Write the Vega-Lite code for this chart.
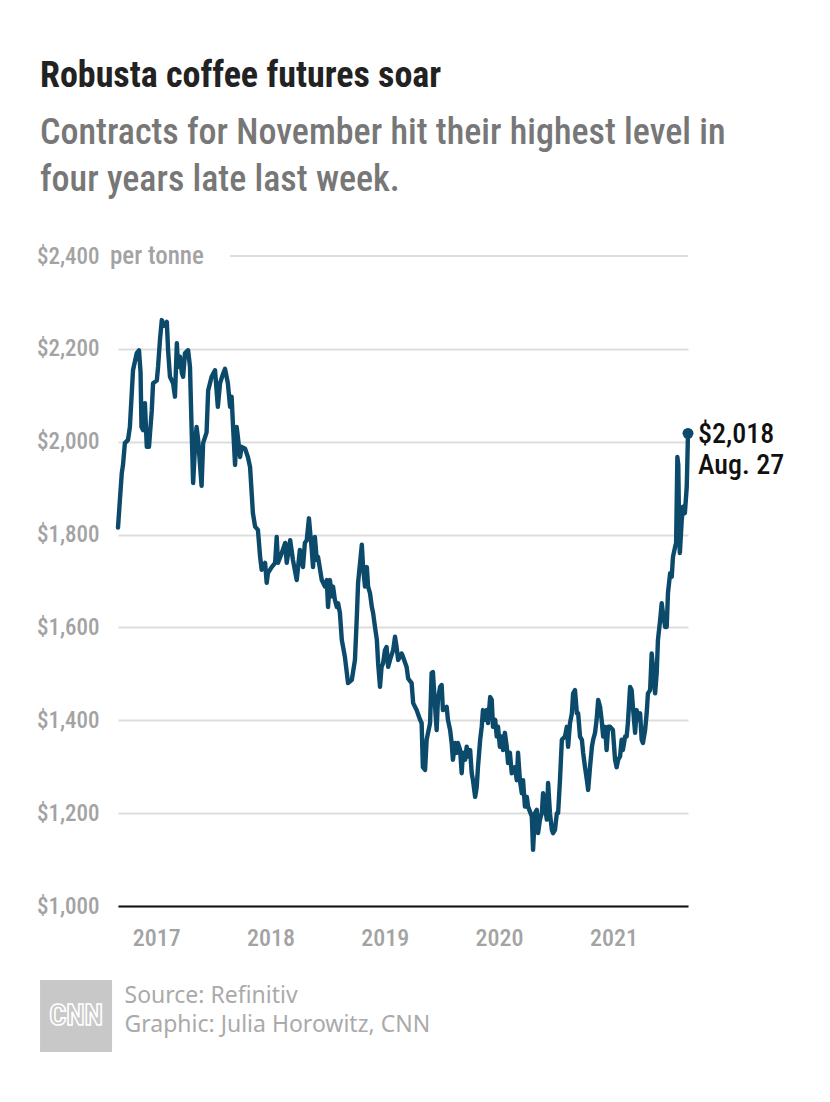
{
  "$schema": "https://vega.github.io/schema/vega-lite/v6.json",
  "width": 570,
  "height": 650,
  "autosize": {"type": "none"},
  "padding": {"left": 118, "top": 256, "right": 142, "bottom": 196},
  "background": "white",
  "config": {"view": {"stroke": null}, "font": "Roboto Condensed, DejaVu Sans Condensed, sans-serif"},
  "title": {
    "text": "Robusta coffee futures soar",
    "subtitle": ["Contracts for November hit their highest level in", "four years late last week."],
    "anchor": "start",
    "frame": "group",
    "dx": -78,
    "offset": 45,
    "font": "Roboto Condensed, DejaVu Sans Condensed, sans-serif",
    "fontWeight": "bold",
    "fontSize": 36,
    "color": "#222222",
    "subtitleFont": "Roboto Condensed, DejaVu Sans Condensed, sans-serif",
    "subtitleFontWeight": 500,
    "subtitleFontSize": 36,
    "subtitleColor": "#777777",
    "subtitleLineHeight": 47,
    "subtitlePadding": 21
  },
  "datasets": {
    "prices": [
      {"date": "2016-09-01", "price": 1815}, {"date": "2016-09-07", "price": 1874}, {"date": "2016-09-13", "price": 1932}, {"date": "2016-09-17", "price": 1950}, {"date": "2016-09-23", "price": 1997}, {"date": "2016-10-03", "price": 2004}, {"date": "2016-10-09", "price": 2032}, {"date": "2016-10-19", "price": 2154}, {"date": "2016-10-31", "price": 2191}, {"date": "2016-11-07", "price": 2197}, {"date": "2016-11-12", "price": 2150}, {"date": "2016-11-15", "price": 2032}, {"date": "2016-11-20", "price": 2025}, {"date": "2016-11-26", "price": 2083}, {"date": "2016-12-02", "price": 1989}, {"date": "2016-12-09", "price": 1989}, {"date": "2016-12-18", "price": 2068}, {"date": "2016-12-22", "price": 2126},
      {"date": "2017-01-03", "price": 2132}, {"date": "2017-01-07", "price": 2161}, {"date": "2017-01-13", "price": 2219}, {"date": "2017-01-19", "price": 2262}, {"date": "2017-01-26", "price": 2250}, {"date": "2017-02-04", "price": 2258}, {"date": "2017-02-08", "price": 2197}, {"date": "2017-02-14", "price": 2140}, {"date": "2017-02-24", "price": 2126}, {"date": "2017-03-02", "price": 2097}, {"date": "2017-03-08", "price": 2212}, {"date": "2017-03-12", "price": 2161}, {"date": "2017-03-18", "price": 2183}, {"date": "2017-03-24", "price": 2148}, {"date": "2017-03-28", "price": 2140}, {"date": "2017-04-03", "price": 2191}, {"date": "2017-04-13", "price": 2197}, {"date": "2017-04-19", "price": 2161}, {"date": "2017-04-24", "price": 2032}, {"date": "2017-04-29", "price": 1911}, {"date": "2017-05-05", "price": 1990}, {"date": "2017-05-10", "price": 2032}, {"date": "2017-05-15", "price": 2004}, {"date": "2017-05-26", "price": 1905}, {"date": "2017-05-31", "price": 1997}, {"date": "2017-06-11", "price": 2020}, {"date": "2017-06-16", "price": 2110}, {"date": "2017-06-27", "price": 2140}, {"date": "2017-07-08", "price": 2154}, {"date": "2017-07-17", "price": 2075}, {"date": "2017-07-24", "price": 2126}, {"date": "2017-08-02", "price": 2145}, {"date": "2017-08-09", "price": 2157}, {"date": "2017-08-18", "price": 2126}, {"date": "2017-08-25", "price": 2075}, {"date": "2017-08-30", "price": 2097}, {"date": "2017-09-03", "price": 2040}, {"date": "2017-09-10", "price": 1950}, {"date": "2017-09-15", "price": 2032}, {"date": "2017-09-19", "price": 2010}, {"date": "2017-09-26", "price": 1967}, {"date": "2017-10-01", "price": 1989}, {"date": "2017-10-12", "price": 1985}, {"date": "2017-10-21", "price": 1967}, {"date": "2017-10-28", "price": 1945}, {"date": "2017-11-06", "price": 1846}, {"date": "2017-11-13", "price": 1817}, {"date": "2017-11-22", "price": 1810}, {"date": "2017-11-29", "price": 1752}, {"date": "2017-12-04", "price": 1724}, {"date": "2017-12-15", "price": 1739}, {"date": "2017-12-20", "price": 1696}, {"date": "2017-12-24", "price": 1717},
      {"date": "2018-01-05", "price": 1730}, {"date": "2018-01-16", "price": 1739}, {"date": "2018-01-21", "price": 1795}, {"date": "2018-01-25", "price": 1739}, {"date": "2018-02-06", "price": 1760}, {"date": "2018-02-17", "price": 1782}, {"date": "2018-02-22", "price": 1739}, {"date": "2018-03-05", "price": 1788}, {"date": "2018-03-14", "price": 1745}, {"date": "2018-03-26", "price": 1702}, {"date": "2018-04-05", "price": 1767}, {"date": "2018-04-15", "price": 1730}, {"date": "2018-04-21", "price": 1782}, {"date": "2018-04-27", "price": 1788}, {"date": "2018-05-04", "price": 1835}, {"date": "2018-05-13", "price": 1767}, {"date": "2018-05-17", "price": 1730}, {"date": "2018-05-23", "price": 1795}, {"date": "2018-05-29", "price": 1745}, {"date": "2018-06-02", "price": 1752}, {"date": "2018-06-14", "price": 1702}, {"date": "2018-06-24", "price": 1688}, {"date": "2018-06-30", "price": 1702}, {"date": "2018-07-04", "price": 1644}, {"date": "2018-07-10", "price": 1702}, {"date": "2018-07-16", "price": 1667}, {"date": "2018-07-20", "price": 1688}, {"date": "2018-07-26", "price": 1659}, {"date": "2018-08-01", "price": 1644}, {"date": "2018-08-05", "price": 1652}, {"date": "2018-08-11", "price": 1631}, {"date": "2018-08-17", "price": 1573}, {"date": "2018-08-27", "price": 1536}, {"date": "2018-09-06", "price": 1480}, {"date": "2018-09-18", "price": 1487}, {"date": "2018-09-28", "price": 1530}, {"date": "2018-10-04", "price": 1623}, {"date": "2018-10-08", "price": 1696}, {"date": "2018-10-20", "price": 1778}, {"date": "2018-10-24", "price": 1730}, {"date": "2018-10-30", "price": 1688}, {"date": "2018-11-05", "price": 1730}, {"date": "2018-11-09", "price": 1688}, {"date": "2018-11-15", "price": 1674}, {"date": "2018-11-21", "price": 1644}, {"date": "2018-11-25", "price": 1631}, {"date": "2018-12-01", "price": 1601}, {"date": "2018-12-07", "price": 1573}, {"date": "2018-12-11", "price": 1523}, {"date": "2018-12-17", "price": 1472}, {"date": "2018-12-22", "price": 1515}, {"date": "2018-12-27", "price": 1523},
      {"date": "2019-01-02", "price": 1551}, {"date": "2019-01-07", "price": 1558}, {"date": "2019-01-12", "price": 1515}, {"date": "2019-01-18", "price": 1530}, {"date": "2019-01-28", "price": 1551}, {"date": "2019-02-03", "price": 1580}, {"date": "2019-02-08", "price": 1558}, {"date": "2019-02-13", "price": 1530}, {"date": "2019-02-24", "price": 1544}, {"date": "2019-03-01", "price": 1536}, {"date": "2019-03-12", "price": 1515}, {"date": "2019-03-17", "price": 1490}, {"date": "2019-03-28", "price": 1480}, {"date": "2019-04-02", "price": 1437}, {"date": "2019-04-13", "price": 1422}, {"date": "2019-04-24", "price": 1401}, {"date": "2019-04-29", "price": 1394}, {"date": "2019-05-03", "price": 1299}, {"date": "2019-05-10", "price": 1293}, {"date": "2019-05-15", "price": 1358}, {"date": "2019-05-26", "price": 1394}, {"date": "2019-05-31", "price": 1502}, {"date": "2019-06-04", "price": 1504}, {"date": "2019-06-11", "price": 1429}, {"date": "2019-06-16", "price": 1379}, {"date": "2019-06-20", "price": 1444}, {"date": "2019-06-27", "price": 1472}, {"date": "2019-07-02", "price": 1476}, {"date": "2019-07-06", "price": 1422}, {"date": "2019-07-18", "price": 1429}, {"date": "2019-07-22", "price": 1401}, {"date": "2019-07-29", "price": 1379}, {"date": "2019-08-03", "price": 1351}, {"date": "2019-08-07", "price": 1315}, {"date": "2019-08-14", "price": 1351}, {"date": "2019-08-19", "price": 1330}, {"date": "2019-08-23", "price": 1351}, {"date": "2019-08-30", "price": 1336}, {"date": "2019-09-04", "price": 1286}, {"date": "2019-09-08", "price": 1330}, {"date": "2019-09-15", "price": 1315}, {"date": "2019-09-20", "price": 1343}, {"date": "2019-09-24", "price": 1322}, {"date": "2019-10-01", "price": 1336}, {"date": "2019-10-06", "price": 1286}, {"date": "2019-10-10", "price": 1271}, {"date": "2019-10-17", "price": 1235}, {"date": "2019-10-22", "price": 1256}, {"date": "2019-10-26", "price": 1299}, {"date": "2019-11-02", "price": 1358}, {"date": "2019-11-07", "price": 1386}, {"date": "2019-11-11", "price": 1422}, {"date": "2019-11-18", "price": 1401}, {"date": "2019-11-23", "price": 1422}, {"date": "2019-11-27", "price": 1394}, {"date": "2019-12-04", "price": 1450}, {"date": "2019-12-09", "price": 1444}, {"date": "2019-12-13", "price": 1386}, {"date": "2019-12-20", "price": 1401}, {"date": "2019-12-25", "price": 1365}, {"date": "2019-12-29", "price": 1386},
      {"date": "2020-01-04", "price": 1343}, {"date": "2020-01-10", "price": 1365}, {"date": "2020-01-14", "price": 1336}, {"date": "2020-01-20", "price": 1373}, {"date": "2020-01-26", "price": 1343}, {"date": "2020-01-30", "price": 1308}, {"date": "2020-02-05", "price": 1330}, {"date": "2020-02-11", "price": 1286}, {"date": "2020-02-21", "price": 1299}, {"date": "2020-02-27", "price": 1271}, {"date": "2020-03-02", "price": 1330}, {"date": "2020-03-08", "price": 1271}, {"date": "2020-03-14", "price": 1243}, {"date": "2020-03-18", "price": 1271}, {"date": "2020-03-24", "price": 1214}, {"date": "2020-03-30", "price": 1235}, {"date": "2020-04-03", "price": 1214}, {"date": "2020-04-15", "price": 1193}, {"date": "2020-04-19", "price": 1121}, {"date": "2020-04-25", "price": 1200}, {"date": "2020-05-01", "price": 1207}, {"date": "2020-05-05", "price": 1157}, {"date": "2020-05-11", "price": 1186}, {"date": "2020-05-17", "price": 1200}, {"date": "2020-05-21", "price": 1243}, {"date": "2020-06-02", "price": 1186}, {"date": "2020-06-06", "price": 1265}, {"date": "2020-06-12", "price": 1200}, {"date": "2020-06-18", "price": 1164}, {"date": "2020-06-22", "price": 1157}, {"date": "2020-06-28", "price": 1164}, {"date": "2020-07-04", "price": 1200}, {"date": "2020-07-08", "price": 1200}, {"date": "2020-07-14", "price": 1271}, {"date": "2020-07-20", "price": 1358}, {"date": "2020-07-30", "price": 1365}, {"date": "2020-08-05", "price": 1386}, {"date": "2020-08-09", "price": 1343}, {"date": "2020-08-15", "price": 1394}, {"date": "2020-08-21", "price": 1415}, {"date": "2020-08-25", "price": 1458}, {"date": "2020-08-31", "price": 1465}, {"date": "2020-09-06", "price": 1415}, {"date": "2020-09-10", "price": 1415}, {"date": "2020-09-16", "price": 1365}, {"date": "2020-09-22", "price": 1358}, {"date": "2020-09-26", "price": 1330}, {"date": "2020-10-02", "price": 1299}, {"date": "2020-10-08", "price": 1271}, {"date": "2020-10-12", "price": 1250}, {"date": "2020-10-18", "price": 1299}, {"date": "2020-10-24", "price": 1343}, {"date": "2020-10-28", "price": 1358}, {"date": "2020-11-03", "price": 1373}, {"date": "2020-11-08", "price": 1401}, {"date": "2020-11-13", "price": 1444}, {"date": "2020-11-19", "price": 1429}, {"date": "2020-11-24", "price": 1401}, {"date": "2020-11-29", "price": 1365}, {"date": "2020-12-05", "price": 1386}, {"date": "2020-12-10", "price": 1336}, {"date": "2020-12-15", "price": 1386}, {"date": "2020-12-21", "price": 1386}, {"date": "2020-12-30", "price": 1379},
      {"date": "2021-01-06", "price": 1315}, {"date": "2021-01-11", "price": 1299}, {"date": "2021-01-16", "price": 1315}, {"date": "2021-01-22", "price": 1322}, {"date": "2021-01-27", "price": 1358}, {"date": "2021-01-31", "price": 1336}, {"date": "2021-02-07", "price": 1365}, {"date": "2021-02-12", "price": 1365}, {"date": "2021-02-16", "price": 1394}, {"date": "2021-02-23", "price": 1472}, {"date": "2021-02-28", "price": 1465}, {"date": "2021-03-04", "price": 1429}, {"date": "2021-03-11", "price": 1373}, {"date": "2021-03-16", "price": 1422}, {"date": "2021-03-20", "price": 1401}, {"date": "2021-03-27", "price": 1415}, {"date": "2021-04-01", "price": 1358}, {"date": "2021-04-05", "price": 1351}, {"date": "2021-04-12", "price": 1379}, {"date": "2021-04-17", "price": 1415}, {"date": "2021-04-21", "price": 1458}, {"date": "2021-04-28", "price": 1465}, {"date": "2021-05-03", "price": 1544}, {"date": "2021-05-07", "price": 1515}, {"date": "2021-05-14", "price": 1458}, {"date": "2021-05-19", "price": 1502}, {"date": "2021-05-23", "price": 1573}, {"date": "2021-05-30", "price": 1616}, {"date": "2021-06-04", "price": 1652}, {"date": "2021-06-08", "price": 1631}, {"date": "2021-06-15", "price": 1601}, {"date": "2021-06-20", "price": 1601}, {"date": "2021-06-24", "price": 1674}, {"date": "2021-07-01", "price": 1717}, {"date": "2021-07-06", "price": 1709}, {"date": "2021-07-10", "price": 1752}, {"date": "2021-07-17", "price": 1774}, {"date": "2021-07-20", "price": 1782}, {"date": "2021-07-24", "price": 1967}, {"date": "2021-07-27", "price": 1950}, {"date": "2021-07-30", "price": 1790}, {"date": "2021-08-01", "price": 1760}, {"date": "2021-08-07", "price": 1831}, {"date": "2021-08-11", "price": 1860}, {"date": "2021-08-17", "price": 1846}, {"date": "2021-08-23", "price": 1903}, {"date": "2021-08-27", "price": 2018}
    ],
    "last": [{"date": "2021-08-27", "price": 2018, "label": "Aug. 27"}],
    "one": [{}]
  },
  "layer": [
    {
      "data": {"name": "prices"},
      "mark": {"type": "line", "color": "#0c4a6c", "strokeWidth": 4.4, "strokeJoin": "round", "strokeCap": "round"},
      "encoding": {
        "x": {
          "field": "date", "type": "temporal",
          "scale": {"domain": ["2016-09-01", "2021-08-27"]},
          "axis": {
            "title": ["Source: Refinitiv", "Graphic: Julia Horowitz, CNN"],
            "titleFont": "Noto Sans",
            "titleFontSize": 23,
            "titleFontWeight": "normal",
            "titleColor": "#aaaaaa",
            "titleLineHeight": 29,
            "titleAnchor": "start",
            "titleAlign": "left",
            "titleBaseline": "top",
            "titleX": 6,
            "titleY": 78,
            "format": "%Y",
            "tickCount": {"interval": "year", "step": 1},
            "grid": false,
            "ticks": false,
            "domainColor": "#111111",
            "domainWidth": 2,
            "labelFont": "Roboto Condensed, DejaVu Sans Condensed, sans-serif",
            "labelFontSize": 24,
            "labelFontWeight": 500,
            "labelColor": "#a3a3a3",
            "labelPadding": 20
          }
        },
        "y": {
          "field": "price", "type": "quantitative",
          "scale": {"domain": [1000, 2400], "nice": false, "zero": false},
          "axis": {
            "title": null,
            "values": [1000, 1200, 1400, 1600, 1800, 2000, 2200, 2400],
            "format": "$,.0f",
            "domain": false,
            "ticks": false,
            "labelFont": "Roboto Condensed, DejaVu Sans Condensed, sans-serif",
            "labelFontSize": 23,
            "labelFontWeight": 500,
            "labelColor": "#a3a3a3",
            "labelPadding": 19,
            "gridColor": {"condition": {"test": "datum.value === 2400", "value": "transparent"}, "value": "#dddddd"},
            "gridWidth": 2
          }
        }
      }
    },
    {
      "data": {"name": "one"},
      "mark": {"type": "rule", "color": "#dddddd", "strokeWidth": 2},
      "encoding": {
        "x": {"datum": {"year": 2017, "month": 8, "date": 25}, "type": "temporal"},
        "x2": {"datum": {"year": 2021, "month": 8, "date": 27}},
        "y": {"datum": 2400, "type": "quantitative"}
      }
    },
    {
      "data": {"name": "one"},
      "mark": {"type": "text", "text": "per tonne", "align": "left", "baseline": "middle", "dx": -8, "font": "Roboto Condensed, DejaVu Sans Condensed, sans-serif", "fontWeight": 500, "fontSize": 25, "color": "#a3a3a3"},
      "encoding": {
        "x": {"datum": {"year": 2016, "month": 9, "date": 1}, "type": "temporal"},
        "y": {"datum": 2400, "type": "quantitative"}
      }
    },
    {
      "data": {"name": "last"},
      "mark": {"type": "point", "filled": true, "size": 120, "color": "#0c4a6c", "opacity": 1},
      "encoding": {
        "x": {"field": "date", "type": "temporal"},
        "y": {"field": "price", "type": "quantitative"}
      }
    },
    {
      "data": {"name": "last"},
      "mark": {"type": "text", "align": "left", "baseline": "middle", "dx": 10, "dy": 2, "font": "Roboto Condensed, DejaVu Sans Condensed, sans-serif", "fontWeight": 500, "fontSize": 28, "color": "#111111"},
      "encoding": {
        "x": {"field": "date", "type": "temporal"},
        "y": {"field": "price", "type": "quantitative"},
        "text": {"field": "price", "type": "quantitative", "format": "$,.0f"}
      }
    },
    {
      "data": {"name": "last"},
      "mark": {"type": "text", "align": "left", "baseline": "middle", "dx": 10, "dy": 33, "font": "Roboto Condensed, DejaVu Sans Condensed, sans-serif", "fontWeight": 500, "fontSize": 28, "color": "#111111"},
      "encoding": {
        "x": {"field": "date", "type": "temporal"},
        "y": {"field": "price", "type": "quantitative"},
        "text": {"field": "label", "type": "nominal"}
      }
    },
    {
      "data": {"name": "one"},
      "mark": {"type": "square", "size": 5184, "color": "#c8c8c8", "opacity": 1, "filled": true},
      "encoding": {
        "x": {"datum": {"year": 2016, "month": 4, "date": 20}, "type": "temporal"},
        "y": {"datum": 763, "type": "quantitative"}
      }
    },
    {
      "data": {"name": "one"},
      "mark": {"type": "text", "text": "CNN", "align": "center", "baseline": "middle", "font": "Roboto Condensed, DejaVu Sans Condensed, sans-serif", "fontWeight": "bold", "fontSize": 30, "fill": "#c8c8c8", "stroke": "white", "strokeWidth": 1.6},
      "encoding": {
        "x": {"datum": {"year": 2016, "month": 4, "date": 20}, "type": "temporal"},
        "y": {"datum": 763, "type": "quantitative"}
      }
    }
  ]
}
